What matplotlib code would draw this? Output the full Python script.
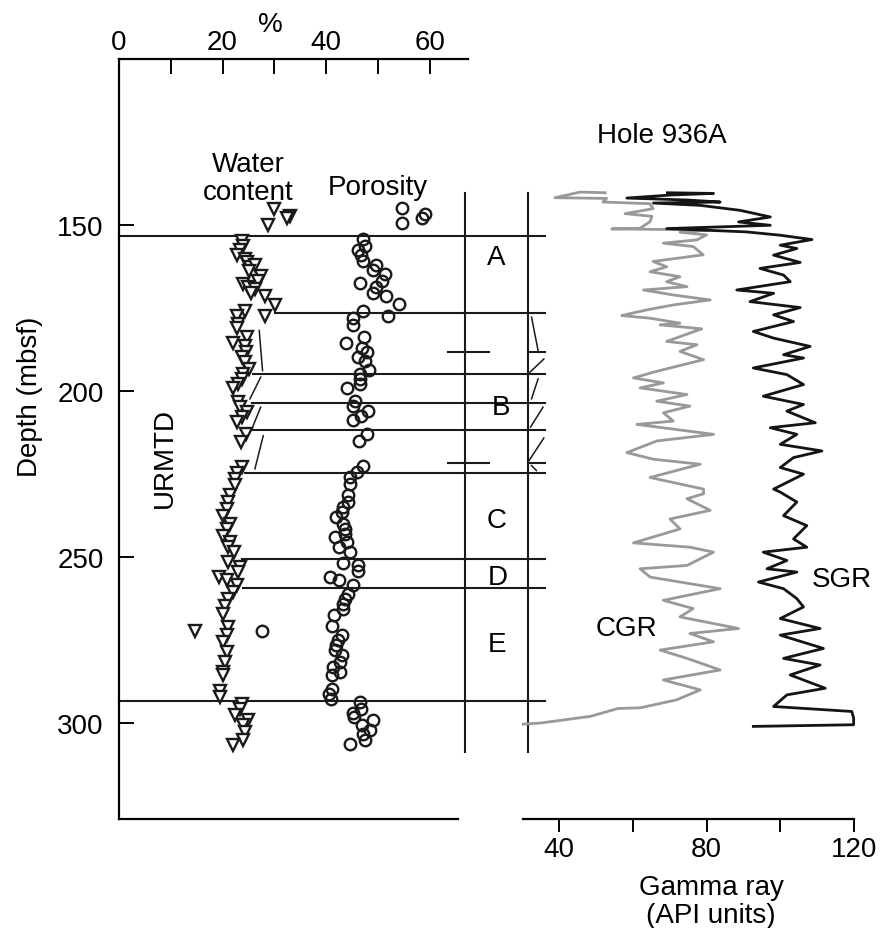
import matplotlib
matplotlib.use('Agg')
import matplotlib.pyplot as plt

plt.rcParams['font.family'] = ['Liberation Sans', 'DejaVu Sans']

# ---------------- data ----------------
wc_depth = [145.2, 147.4, 147.9, 149.9,
            154.7, 156.2, 157.7, 159.2, 160.2, 161.2, 162.7, 162.2, 163.8, 165.3, 166.8, 167.8,
            168.8, 169.3, 170.5, 171.3, 174.0, 176.0, 177.3, 177.3, 179.8, 181.0, 183.8, 185.5,
            186.4, 188.2, 189.8, 191.2, 193.4, 194.9, 196.4, 197.9, 199.2, 203.4, 204.9, 206.4,
            207.9, 209.4, 213.0, 215.3, 223.0, 224.7, 226.5, 228.5, 231.5, 233.5, 235.5, 237.6,
            240.1, 241.6, 243.6, 245.6, 247.1, 248.6, 251.6, 253.1, 254.6, 256.1, 257.1, 258.4,
            260.6, 262.7, 264.7, 267.2, 272.5, 271.2, 273.7, 275.7, 278.7, 281.7, 284.7, 285.7,
            290.3, 292.3, 294.3, 295.8, 297.8, 299.3, 300.8, 302.8, 305.3, 306.6]
wc_value = [29.9, 33.1, 32.4, 28.8,
            23.7, 24.0, 23.4, 22.8, 24.3, 24.7, 25.3, 26.3, 25.2, 27.4, 26.9, 24.0,
            25.0, 26.3, 25.4, 28.2, 30.1, 24.3, 28.2, 22.7, 23.0, 22.8, 24.7, 22.1,
            24.3, 24.5, 23.7, 24.3, 25.2, 24.0, 23.7, 23.0, 22.1, 23.0, 23.4, 24.7,
            23.7, 22.8, 24.5, 23.6, 23.7, 22.8, 22.4, 22.4, 21.4, 21.1, 20.8, 20.1,
            21.4, 20.8, 20.1, 21.4, 21.1, 22.2, 21.1, 23.4, 23.0, 19.4, 20.8, 22.8,
            22.1, 21.1, 20.5, 20.0, 14.7, 21.1, 20.8, 20.1, 20.8, 20.5, 20.1, 20.1,
            19.5, 19.5, 23.7, 23.4, 22.4, 25.0, 24.0, 24.3, 23.9, 22.1]

por_depth = [145.0, 149.5, 146.7, 148.0,
             154.2, 156.2, 157.7, 159.2, 160.8, 162.2, 163.5, 164.8, 166.8, 167.6, 168.8, 170.5,
             171.3, 173.8, 175.8, 177.5, 178.1, 180.1, 183.8, 185.5, 187.1, 188.3, 189.8, 190.9,
             193.6, 194.9, 196.4, 197.9, 199.2, 202.9, 204.6, 206.2, 207.6, 208.9, 212.9, 215.0,
             222.5, 224.3, 226.0, 228.0, 231.5, 233.5, 235.0, 236.5, 238.0, 240.1, 241.6, 243.1,
             244.1, 245.6, 247.1, 248.6, 251.9, 252.6, 254.4, 256.1, 257.1, 258.4, 261.1, 262.7,
             264.2, 265.7, 267.5, 270.9, 272.5, 273.7, 275.2, 276.7, 278.2, 279.7, 281.7, 283.2,
             284.7, 285.7, 289.8, 291.3, 292.8, 293.8, 295.8, 297.0, 298.3, 299.3, 300.8, 302.3,
             303.3, 305.3, 306.4]
por_value = [54.6, 54.6, 59.1, 58.6,
             47.2, 47.5, 46.2, 46.8, 47.2, 49.7, 49.0, 51.4, 50.7, 46.5, 49.7, 49.0,
             51.5, 54.1, 47.2, 52.0, 45.1, 45.2, 47.3, 43.8, 47.0, 47.8, 46.2, 47.5,
             48.3, 46.5, 46.5, 46.5, 44.1, 45.6, 45.2, 48.1, 46.8, 45.1, 47.8, 46.4,
             47.2, 45.9, 44.6, 44.7, 44.3, 44.3, 43.3, 43.0, 42.0, 43.3, 43.6, 43.6,
             41.7, 44.0, 42.5, 44.6, 43.3, 46.1, 46.2, 40.7, 42.5, 45.1, 44.3, 43.6,
             43.3, 43.3, 41.5, 41.1, 27.7, 43.0, 42.3, 42.0, 41.7, 43.0, 42.7, 41.4,
             42.7, 41.2, 41.2, 40.6, 41.0, 46.5, 46.8, 45.2, 45.4, 49.0, 47.0, 48.5,
             47.2, 47.5, 44.7]

cgr_depth = [140.3, 140.1, 141.8, 142.0, 143.1, 143.6, 145.1, 146.6, 147.4, 149.0, 151.0, 151.2,
             151.5, 152.2, 153.0, 154.5, 155.5, 156.5, 159.0, 161.0, 162.6, 164.1, 165.6, 167.1,
             168.6, 169.6, 171.1, 172.6, 174.1, 175.6, 177.3, 178.1, 179.6, 180.1, 181.3, 185.1,
             186.1, 188.1, 190.6, 192.1, 194.1, 196.1, 197.6, 199.1, 201.1, 203.1, 204.6, 206.6,
             209.1, 210.1, 213.1, 215.1, 218.6, 220.6, 222.1, 226.1, 229.6, 231.0, 232.5, 236.0,
             238.6, 241.6, 245.8, 247.1, 248.6, 252.6, 253.6, 256.1, 259.6, 263.1, 265.6, 268.1,
             271.6, 273.1, 275.6, 278.1, 280.6, 284.1, 287.1, 290.1, 293.1, 295.5, 295.7, 298.1,
             300.1, 300.4]
cgr_api = [52.5, 45.7, 38.9, 52.9, 51.9, 64.7, 65.5, 57.9, 65.2, 64.7, 62.0, 54.3,
           81.0, 72.8, 80.0, 77.4, 68.3, 76.4, 79.1, 65.5, 69.2, 64.7, 72.8, 69.2,
           74.7, 62.9, 71.0, 81.0, 71.0, 63.8, 57.0, 64.7, 72.8, 67.4, 78.7, 69.2,
           77.4, 72.8, 79.2, 73.7, 66.5, 60.2, 68.3, 62.0, 74.7, 66.5, 75.5, 68.3,
           71.0, 61.1, 81.9, 66.5, 58.4, 65.6, 78.3, 64.7, 79.2, 79.2, 74.7, 81.0,
           70.1, 72.8, 60.2, 75.5, 81.9, 74.7, 62.0, 64.7, 83.7, 68.3, 76.4, 72.8,
           88.7, 75.5, 81.9, 67.4, 74.7, 83.7, 68.3, 78.3, 71.9, 62.0, 56.0, 48.4,
           34.8, 30.3]

sgr_depth = [140.3, 140.5, 141.0, 141.9, 142.5, 143.1, 143.4, 144.1, 145.6, 147.6, 149.1, 150.1,
             151.1, 152.1, 153.1, 154.4, 156.1, 157.1, 159.1, 161.3, 163.1, 165.1, 167.1, 169.6,
             170.6, 173.1, 174.9, 177.1, 179.1, 182.1, 184.1, 186.6, 189.1, 190.1, 193.1, 195.1,
             198.1, 201.6, 204.1, 206.1, 209.6, 211.1, 213.1, 216.1, 218.1, 220.1, 223.1, 225.1,
             229.6, 230.5, 233.5, 237.6, 240.6, 244.6, 247.1, 248.6, 251.1, 253.6, 254.6, 257.6,
             259.6, 262.6, 265.1, 268.6, 271.6, 273.6, 277.6, 280.6, 282.6, 285.6, 289.6, 291.6,
             295.1, 296.6, 298.6, 300.6, 301.1]
sgr_api = [69.4, 81.9, 70.0, 58.4, 75.0, 83.7, 65.6, 78.3, 89.1, 97.3, 88.7, 97.3,
           69.2, 90.9, 100.0, 108.6, 100.0, 104.5, 98.2, 105.4, 94.5, 100.9, 102.7, 88.2,
           98.2, 91.8, 105.4, 98.2, 103.6, 92.7, 98.2, 108.1, 100.9, 106.3, 92.7, 101.8,
           106.3, 95.4, 106.3, 101.8, 109.5, 97.3, 104.5, 100.0, 111.3, 103.6, 100.0, 106.3,
           98.2, 100.0, 104.5, 100.9, 107.2, 103.6, 107.2, 95.4, 101.8, 96.4, 104.5, 94.1,
           100.9, 104.5, 106.3, 100.0, 110.8, 100.0, 111.7, 100.9, 110.8, 102.7, 112.2, 101.8,
           98.2, 119.4, 119.9, 119.9, 92.7]

unit_labels = ['A', 'B', 'C', 'D', 'E']
boundary_depth = [153.4, 176.6, 194.9, 203.7, 211.7, 224.7, 250.6, 259.3, 293.3]
boundary_start = [0.0, 30.1, 25.9, 25.7, 24.9, 24.3, 23.7, 24.0, 0.0]
cross_depth = [188.3, 221.7]

pct_ticks = [0, 20, 40, 60]
pct_minor = [10, 30, 50]
depth_ticks = [150, 200, 250, 300]
gr_ticks = [40, 60, 80, 100, 120]
gr_labels = ['40', '', '80', '', '120']

# ---------------- figure ----------------
W, H = 894, 929
fig = plt.figure(figsize=(W / 100, H / 100), dpi=100)
FS = 20


def fx(px):
    return px / W


def fy(py):
    return 1 - py / H


ax = fig.add_axes([fx(119), fy(820), fx(468) - fx(119), fy(60) - fy(820)])
ax.set_xlim(0, 67.4)
ax.set_ylim(329, 100)
ax.patch.set_visible(False)

for s in ['top', 'left', 'bottom']:
    ax.spines[s].set_linewidth(1.6)
ax.spines['right'].set_visible(False)
ax.spines['bottom'].set_bounds(0, 65.4)

ax.xaxis.tick_top()
ax.set_xticks(pct_ticks)
ax.set_xticks(pct_minor, minor=True)
ax.tick_params(axis='x', which='both', direction='in', length=10.8, width=1.4,
               top=True, bottom=False, labelsize=FS, pad=3)
ax.set_yticks(depth_ticks)
ax.tick_params(axis='y', which='both', direction='in', length=10.8, width=1.4,
               left=True, right=False, labelsize=FS, pad=11)

lc = '#1a1a1a'
# data points
ax.plot(wc_value, wc_depth, linestyle='none', marker='v', markersize=9,
        markerfacecolor='white', markeredgecolor=lc, markeredgewidth=1.7, zorder=3)
ax.plot(por_value, por_depth, linestyle='none', marker='o', markersize=8.3,
        markerfacecolor='none', markeredgecolor=lc, markeredgewidth=1.7, zorder=3)

# unit boundaries
for d, x0 in zip(boundary_depth, boundary_start):
    ax.plot([x0, 82.2], [d, d], color=lc, lw=1.5, clip_on=False, zorder=2)
# vertical column lines
for xv in [66.8, 78.96]:
    ax.plot([xv, xv], [140.4, 308.7], color=lc, lw=1.5, clip_on=False)
# crosses
for d in cross_depth:
    ax.plot([63.5, 71.4], [d, d], color=lc, lw=1.5, clip_on=False)
    ax.plot([78.96, 82.2], [d, d], color=lc, lw=1.5, clip_on=False)

# slanted structure marks in data area
slants = [((27.08, 181.8), (27.72, 193.9)),
          ((25.29, 202.4), (27.36, 195.9)),
          ((25.81, 210.9), (27.36, 204.9)),
          ((26.25, 223.5), (27.86, 213.5))]
for (x1, y1), (x2, y2) in slants:
    ax.plot([x1, x2], [y1, y2], color=lc, lw=1.1, clip_on=False)
# slanted marks in right column
slants2 = [((79.67, 177.8), (80.93, 187.8)),
           ((79.34, 194.4), (82.05, 190.4)),
           ((79.67, 202.4), (80.93, 196.4)),
           ((79.48, 210.9), (81.89, 204.9)),
           ((79.19, 221.0), (82.05, 214.2)),
           ((79.67, 222.5), (80.62, 224.0))]
for (x1, y1), (x2, y2) in slants2:
    ax.plot([x1, x2], [y1, y2], color=lc, lw=1.1, clip_on=False)

# ---------------- gamma ray axes ----------------
ax2 = fig.add_axes([fx(523), fy(820), fx(854) - fx(523), fy(60) - fy(820)])
ax2.set_xlim(30.23, 120)
ax2.set_ylim(329, 100)
ax2.patch.set_visible(False)
for s in ['top', 'left', 'right']:
    ax2.spines[s].set_visible(False)
ax2.spines['bottom'].set_linewidth(1.6)
ax2.set_yticks([])
ax2.set_xticks(gr_ticks)
ax2.set_xticklabels(gr_labels)
ax2.tick_params(axis='x', direction='out', length=9.5, width=1.4, labelsize=FS, pad=3)

ax2.plot(cgr_api, cgr_depth, color='#999999', lw=2.0, clip_on=False)
ax2.plot(sgr_api, sgr_depth, color='#141414', lw=2.0, clip_on=False)

# ---------------- text ----------------
def ftext(px, py, s, **kw):
    kw.setdefault('fontsize', FS)
    kw.setdefault('ha', 'center')
    kw.setdefault('va', 'baseline')
    fig.text(fx(px), fy(py), s, **kw)


ftext(270, 32, '%')
ftext(248, 172, 'Water')
ftext(248, 200, 'content')
ftext(378, 195, 'Porosity')
ftext(662, 143, 'Hole 936A')
for lab, px, py in zip(unit_labels, [496, 501, 497, 498, 497], [265, 415, 528, 585, 652]):
    ftext(px, py, lab)
ftext(626, 636, 'CGR')
ftext(842, 587, 'SGR')
ftext(711, 895, 'Gamma ray')
ftext(711, 923, '(API units)')
ftext(30, 397, 'Depth (mbsf)', va='center', rotation=90)
ftext(165, 458, 'URMTD', va='center', rotation=90)

fig.savefig('out.png', dpi=100)
